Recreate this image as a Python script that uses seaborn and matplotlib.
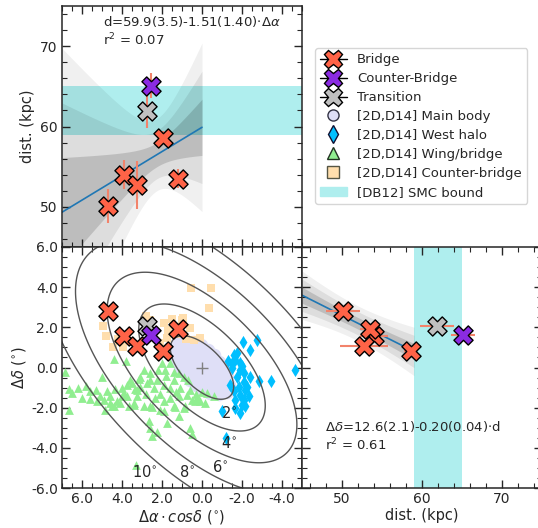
import numpy as np
import pandas as pd
import matplotlib
matplotlib.use("Agg")
import matplotlib.pyplot as plt
from matplotlib.lines import Line2D
from matplotlib.patches import Patch
from matplotlib.ticker import MultipleLocator, FormatStrFormatter
import seaborn as sns

# stars: RA offset (deg), Dec offset (deg), distance (kpc), distance error
bridge_ra = [4.68, 3.92, 3.27, 1.93, 1.20]
bridge_dec = [2.83, 1.55, 1.08, 0.82, 1.93]
bridge_d = [50.1, 54.0, 52.7, 58.6, 53.5]
bridge_derr = [2.1, 1.8, 3.0, 0.8, 1.2]
counter_ra, counter_dec, counter_d, counter_derr = [2.55], [1.63], [65.1], [1.5]
trans_ra, trans_dec, trans_d, trans_derr = [2.75], [2.05], [61.9], [2.1]

# [2D,D14] samples (RA offset, Dec offset)
main_body = [(0.42, -0.42), (0.21, -0.21), (0, 0), (-0.21, 0.21), (-0.42, 0.42), (0.6, -0.6), (-0.6, 0.6),
             (0.85, -0.28), (0.57, 0), (0.28, 0.28), (0, 0.57), (-0.28, 0.85),
             (0.28, -0.85), (0, -0.57), (-0.28, -0.28), (-0.57, 0), (-0.85, 0.28),
             (1.1, 0.04), (0.85, 0.28), (0.57, 0.57), (0.28, 0.85), (0.04, 1.1),
             (-0.04, -1.1), (-0.28, -0.85), (-0.57, -0.57), (-0.85, -0.28), (-1.1, -0.04),
             (1.27, 0.42), (1.06, 0.64), (0.85, 0.85), (0.64, 1.06), (0.42, 1.27),
             (-0.42, -1.27), (-0.64, -1.06), (-0.85, -0.85), (-1.06, -0.64), (-1.27, -0.42),
             (1.34, 0.85), (1.1, 1.1), (0.85, 1.34), (-0.85, -1.34), (-1.1, -1.1), (-1.34, -0.85),
             (1.24, 1.24), (-1.24, -1.24)]
west_halo = [(-2.03, 1.29), (-2.75, 1.38), (-2.42, 0.88), (-1.58, 0.63), (-1.28, 0.3), (-1.67, 0.38),
             (-2.0, 0.05), (-1.92, -0.11), (-1.5, -0.03), (-2.38, -0.45), (-2.83, -0.65), (-3.45, -0.65),
             (-4.63, -0.11), (-1.75, -0.45), (-2.08, -0.7), (-1.83, -0.95), (-2.17, -1.11), (-1.92, -1.36),
             (-2.08, -1.61), (-1.67, -1.61), (-2.33, -1.44), (-1.67, -2.02), (-1.92, -2.27), (-1.42, -0.86),
             (-1.58, -1.19), (-2.17, -1.94), (-1.5, 0.22), (-1.75, 0.72), (-1.88, 0.22), (-2.08, -0.28),
             (-2.25, -0.95), (-2.0, -1.86), (-1.2, -3.51), (-1.0, -2.19)]
wing_bridge = [(4.42, 0.42), (3.79, 0.3), (6.84, -0.23), (5.0, -0.45), (3.17, -0.58), (3.59, -0.61),
               (6.67, -1.07), (6.5, -1.27), (5.59, -1.19), (5.62, -1.57), (4.75, -1.19), (5.09, -1.44),
               (4.34, -1.07), (4.0, -1.02), (3.75, -0.86), (3.5, -0.78), (3.34, -1.07), (3.09, -0.95),
               (4.92, -1.61), (4.59, -1.77), (5.25, -1.69), (4.25, -1.69), (4.0, -1.44), (3.75, -1.44),
               (4.42, -1.94), (4.84, -2.1), (6.67, -2.1), (3.67, -1.94), (3.25, -1.44),
               (2.92, -0.11), (3.09, -0.45), (2.0, 0.22), (1.59, 0.22), (1.84, -0.11), (2.59, -0.28),
               (2.25, -0.61), (2.75, -0.78), (2.42, -1.02), (1.92, -0.86), (1.59, -1.02), (1.42, -0.61),
               (1.09, -1.02), (1.17, -1.44), (0.75, -1.36), (0.5, -1.61), (0.09, -1.69), (1.59, -1.52),
               (1.92, -1.69), (2.34, -1.52), (3.25, -1.11), (3.42, -1.77), (2.92, -1.94), (2.09, -2.1),
               (1.42, -1.94), (0.92, -2.02), (2.59, -1.94), (1.17, -0.28), (0.92, -0.45),
               (4.5, -1.9), (4.09, -1.77), (3.42, -1.86), (2.5, -1.97), (1.92, -2.19), (1.34, -1.97),
               (1.17, -2.4), (2.67, -2.64), (1.75, -2.77), (2.59, -3.01), (2.25, -3.23), (2.5, -3.4),
               (0.59, -3.01), (0.5, -3.3), (3.29, -4.84), (0.34, -1.69), (-0.16, -1.77), (0.84, -1.94),
               (-0.25, -1.27), (-0.58, -1.44), (0.25, -1.52), (2.8, -1.3), (2.6, -0.6), (2.1, -1.3),
               (1.8, -0.4), (1.3, -1.2), (3.9, -1.25), (4.6, -1.4), (5.3, -1.1), (6.0, -1.5), (6.2, -1.0),
               (5.8, -0.9), (2.2, -0.1), (1.4, -0.2), (0.7, -0.6), (0.6, -1.1), (0.3, -1.3), (0.0, -1.2)]
counter_bridge = [(0.53, 3.95), (-0.47, 3.95), (-0.37, 2.97), (1.49, 2.43), (0.94, 2.47), (0.1, 1.48),
                  (1.9, 2.2), (1.72, 1.88), (4.93, 2.07), (4.43, 1.0), (3.94, 1.0), (2.8, 2.57),
                  (2.6, 2.37), (4.78, 1.58), (4.2, 1.4), (0.8, 1.4), (1.3, 1.68), (2.1, 1.2),
                  (1.0, 2.37), (0.58, 1.96), (0.42, 1.38), (1.75, 1.46)]

# linear fits quoted on the figure: value(err)
fit_top = dict(a=59.9, a_err=3.5, b=-1.51, b_err=1.40, x0=2.26, xmin=0.0, xmax=7.0)
fit_right = dict(a=12.6, a_err=2.1, b=-0.20, b_err=0.04, x0=52.0, xmin=45.0, xmax=59.0)

# SMC bound distance range [DB12]; elliptical semi-major axis contours (PA=45 deg, b/a=0.5)
smc_bound = (59.0, 65.0)
contour_levels = [2, 4, 6, 8, 10]
contour_pa, contour_ba = 45.0, 0.5
contour_label_pos = [(-1.35, -2.25), (-1.35, -3.75), (-0.9, -4.95), (0.75, -5.2), (2.85, -5.2)]

sns.set_style("ticks")
plt.rcParams["font.family"] = ["DejaVu Sans"]
plt.rcParams["axes.unicode_minus"] = False
plt.rcParams["mathtext.fontset"] = "dejavusans"

c_bridge, c_counter, c_trans = "tomato", "blueviolet", "silver"
c_err = "#f2836b"
c_body = "#dfdff7"

W, H = 538, 528
fig = plt.figure(figsize=(W / 100, H / 100), dpi=100)
x0, w, h = 62 / W, 240 / W, 241 / H
ax_top = fig.add_axes([x0, (H - 247) / H, w, h])
ax_main = fig.add_axes([x0, (H - 488) / H, w, h])
ax_right = fig.add_axes([x0 + w, (H - 488) / H, w, h])


def band(ax, fit):
    xs = np.linspace(fit["xmin"], fit["xmax"], 200)
    ys = fit["a"] + fit["b"] * xs
    s_mid2 = fit["a_err"] ** 2 - (fit["x0"] * fit["b_err"]) ** 2
    sig = np.sqrt(max(s_mid2, 0) + ((xs - fit["x0"]) * fit["b_err"]) ** 2)
    for k, al in [(3, 0.06), (2, 0.08), (1, 0.14)]:
        ax.fill_between(xs, ys - k * sig, ys + k * sig, color="k", alpha=al, lw=0, zorder=1)
    ax.plot(xs, ys, color="#1f77b4", lw=1.2, zorder=2)


def stars(ax, x, y, color, xerr=None, yerr=None):
    ax.errorbar(x, y, xerr=xerr, yerr=yerr, fmt="none", ecolor=c_err, elinewidth=1.5, zorder=3)
    sns.scatterplot(x=x, y=y, marker="X", s=190, color=color, edgecolor="k", linewidth=1.0,
                    ax=ax, zorder=4, legend=False)


# ---- top: distance vs RA offset
ax_top.axhspan(*smc_bound, color="paleturquoise", lw=0, zorder=0)
band(ax_top, fit_top)
stars(ax_top, bridge_ra, bridge_d, c_bridge, yerr=bridge_derr)
stars(ax_top, trans_ra, trans_d, c_trans, yerr=trans_derr)
stars(ax_top, counter_ra, counter_d, c_counter, yerr=counter_derr)
ax_top.set_xlim(7, -5)
ax_top.set_ylim(45, 75)
ax_top.set_ylabel("dist. (kpc)", fontsize=10.5, labelpad=4)
ax_top.tick_params(labelbottom=False)
ax_top.yaxis.set_major_locator(MultipleLocator(10))
ax_top.yaxis.set_minor_locator(MultipleLocator(2))
ax_top.xaxis.set_major_locator(MultipleLocator(2))
ax_top.xaxis.set_minor_locator(MultipleLocator(0.5))
ax_top.text(0.17, 0.965, "d=59.9(3.5)-1.51(1.40)$\\cdot\\Delta\\alpha$\nr$^2$ = 0.07",
            transform=ax_top.transAxes, va="top", ha="left", fontsize=9.5)

# ---- main: sky positions
groups = [(main_body, "o", c_body, 95), (west_halo, "d", "deepskyblue", 45),
          (wing_bridge, "^", "lightgreen", 40), (counter_bridge, "s", "navajowhite", 30)]
for pts, mk, col, size in groups:
    df = pd.DataFrame(pts, columns=["ra", "dec"])
    sns.scatterplot(data=df, x="ra", y="dec", marker=mk, color=col, s=size, linewidth=0,
                    ax=ax_main, zorder=2, legend=False)

gx, gy = np.meshgrid(np.linspace(-6, 8, 500), np.linspace(-7, 7, 500))
th = np.deg2rad(contour_pa)
uu = gx * np.sin(th) + gy * np.cos(th)
vv = -gx * np.cos(th) + gy * np.sin(th)
rr = np.sqrt(uu ** 2 + (vv / contour_ba) ** 2)
ax_main.contour(gx, gy, rr, levels=contour_levels, colors="#555555", linewidths=1.0, zorder=2.5)
for lev, (lx, ly) in zip(contour_levels, contour_label_pos):
    ax_main.text(lx, ly, f"{lev}$^{{\\circ}}$", fontsize=10.5, ha="center", va="center", zorder=5)

ax_main.plot([0], [0], marker="+", color="gray", ms=9, mew=1.0, zorder=3)
stars(ax_main, bridge_ra, bridge_dec, c_bridge)
stars(ax_main, trans_ra, trans_dec, c_trans)
stars(ax_main, counter_ra, counter_dec, c_counter)
ax_main.set_xlim(7, -5)
ax_main.set_ylim(-6, 6)
ax_main.set_xlabel("$\\Delta\\alpha\\cdot cos\\delta$ ($^{\\circ}$)", fontsize=10.5, labelpad=1)
ax_main.set_ylabel("$\\Delta\\delta$ ($^{\\circ}$)", fontsize=10.5, labelpad=2)
for axis in (ax_main.xaxis, ax_main.yaxis):
    axis.set_major_locator(MultipleLocator(2))
    axis.set_minor_locator(MultipleLocator(0.5))
    axis.set_major_formatter(FormatStrFormatter("%.1f"))

# ---- right: Dec offset vs distance
ax_right.axvspan(*smc_bound, color="paleturquoise", lw=0, zorder=0)
band(ax_right, fit_right)
stars(ax_right, bridge_d, bridge_dec, c_bridge, xerr=bridge_derr)
stars(ax_right, trans_d, trans_dec, c_trans, xerr=trans_derr)
stars(ax_right, counter_d, counter_dec, c_counter, xerr=counter_derr)
ax_right.set_xlim(45, 75)
ax_right.set_ylim(-6, 6)
ax_right.set_xlabel("dist. (kpc)", fontsize=10.5, labelpad=1)
ax_right.tick_params(labelleft=False)
ax_right.xaxis.set_major_locator(MultipleLocator(10))
ax_right.xaxis.set_minor_locator(MultipleLocator(2))
ax_right.yaxis.set_major_locator(MultipleLocator(2))
ax_right.yaxis.set_minor_locator(MultipleLocator(0.5))
ax_right.text(0.095, 0.285, "$\\Delta\\delta$=12.6(2.1)-0.20(0.04)$\\cdot$d\nr$^2$ = 0.61",
              transform=ax_right.transAxes, va="top", ha="left", fontsize=9.5)

for ax in (ax_top, ax_main, ax_right):
    ax.tick_params(which="both", direction="in", top=True, right=True, labelsize=10, pad=3)
    ax.tick_params(which="major", length=6, width=1.0)
    ax.tick_params(which="minor", length=3.5, width=0.8)
    for sp in ax.spines.values():
        sp.set_linewidth(1.1)

handles = [
    Line2D([0], [0], color="k", lw=1, marker="X", ms=13, mfc=c_bridge, mec="k"),
    Line2D([0], [0], color="k", lw=1, marker="X", ms=13, mfc=c_counter, mec="k"),
    Line2D([0], [0], color="k", lw=1, marker="X", ms=13, mfc=c_trans, mec="k"),
    Line2D([0], [0], ls="none", marker="o", ms=8, mfc=c_body, mec="#334"),
    Line2D([0], [0], ls="none", marker="d", ms=9, mfc="deepskyblue", mec="#113"),
    Line2D([0], [0], ls="none", marker="^", ms=8, mfc="lightgreen", mec="#232"),
    Line2D([0], [0], ls="none", marker="s", ms=8, mfc="navajowhite", mec="#554"),
    Patch(color="paleturquoise"),
]
labels = ["Bridge", "Counter-Bridge", "Transition", "[2D,D14] Main body", "[2D,D14] West halo",
          "[2D,D14] Wing/bridge", "[2D,D14] Counter-bridge", "[DB12] SMC bound"]
fig.legend(handles, labels, loc="upper left", bbox_to_anchor=(315 / W, 1 - 48 / H),
           borderaxespad=0, fontsize=9.5, labelspacing=0.45, frameon=True, borderpad=0.4,
           handletextpad=0.8)

fig.savefig("out.png", dpi=100)
